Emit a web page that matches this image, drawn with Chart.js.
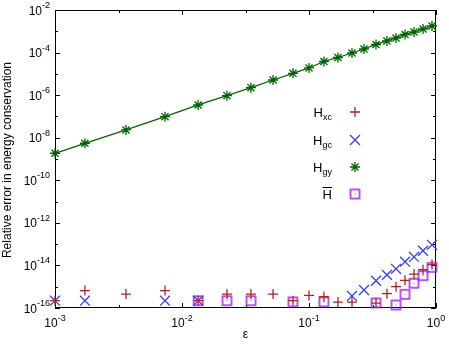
<!DOCTYPE html>
<html><head><meta charset="utf-8">
<script src="https://cdn.jsdelivr.net/npm/chart.js@4.4.0/dist/chart.umd.min.js"></script>
<style>html,body{margin:0;padding:0;background:#fff}#c{display:block}</style>
</head><body>
<canvas id="c" width="449" height="346"></canvas>
<script>
// ---- data ----
const eps  = [0.001, 0.00172, 0.00362, 0.00735, 0.0134, 0.0226, 0.0349, 0.0521, 0.0748, 0.1, 0.131, 0.169, 0.218, 0.271, 0.337, 0.411, 0.484, 0.570, 0.671, 0.79, 0.93];
const hXc  = [2.2e-16, 6.6e-16, 4.5e-16, 6.6e-16, 2.2e-16, 4.5e-16, 4.5e-16, 4.5e-16, 2.2e-16, 3.9e-16, 3.4e-16, 1.9e-16, 1.9e-16, null, 1.7e-16, 4.7e-16, 1.0e-15, 2.0e-15, 3.9e-15, 6.3e-15, 1.1e-14];
const hGc  = [2.2e-16, 2.2e-16, null, 2.2e-16, 2.2e-16, null, null, null, null, null, null, null, 3.7e-16, 7.0e-16, 1.9e-15, 3.6e-15, 6.9e-15, 1.5e-14, 2.5e-14, 4.9e-14, 9.3e-14];
const hGy  = [1.86e-9, 5.48e-9, 2.31e-8, 9.73e-8, 3.45e-7, 9.44e-7, 2.24e-6, 5.15e-6, 1.06e-5, 1.89e-5, 3.81e-5, 5.87e-5, 9.55e-5, 1.47e-4, 2.40e-4, 3.50e-4, 4.84e-4, 7.07e-4, 9.26e-4, 1.28e-3, 1.77e-3];
const hBar = [null, null, null, null, 2.2e-16, 2.2e-16, 2.2e-16, null, 1.93e-16, null, 1.93e-16, null, null, null, 1.74e-16, null, 1.39e-16, 4.4e-16, 1.46e-15, 3.3e-15, 8.2e-15];
const xTickExps = [-3, -2, -1, 0];
const yTickExps = [-16, -14, -12, -10, -8, -6, -4, -2];
const seriesNames = [["H", "xc"], ["H", "gc"], ["H", "gy"], ["H", ""]];

const RED = "#b22222", BLUE = "#3a3aff", GREEN = "#006400", PURPLE = "#a020f0";
const FONT = "'Liberation Sans', Arial, sans-serif";

function pts(ys) {
  const out = [];
  ys.forEach((v, i) => { if (v !== null) out.push({x: eps[i], y: v}); });
  return out;
}

// square with center dot pointstyle
function squareCanvas() {
  const c = document.createElement('canvas');
  c.width = 13; c.height = 13;
  const g = c.getContext('2d');
  g.strokeStyle = PURPLE; g.lineWidth = 1.5;
  g.strokeRect(2, 2, 9, 9);
  g.fillStyle = PURPLE; g.fillRect(6, 6, 1, 1);
  return c;
}
const sq = squareCanvas();

function supText(ctx, base, sup, x, y, align) {
  ctx.font = "12px " + FONT;
  const wb = ctx.measureText(base).width;
  ctx.font = "9px " + FONT;
  const ws = ctx.measureText(sup).width;
  const total = wb + ws;
  let x0 = align === 'right' ? x - total : x - total / 2;
  ctx.textAlign = 'left'; ctx.textBaseline = 'alphabetic';
  ctx.font = "12px " + FONT;
  ctx.fillText(base, x0, y);
  ctx.font = "9px " + FONT;
  ctx.fillText(sup, x0 + wb, y - 6.5);
}

function drawMarker(ctx, kind, x, y) {
  ctx.save();
  ctx.lineWidth = 1.3;
  ctx.beginPath();
  if (kind === 0) { ctx.strokeStyle = RED; ctx.moveTo(x - 5, y); ctx.lineTo(x + 5, y); ctx.moveTo(x, y - 5); ctx.lineTo(x, y + 5); }
  if (kind === 1) { ctx.strokeStyle = BLUE; ctx.moveTo(x - 5, y - 5); ctx.lineTo(x + 5, y + 5); ctx.moveTo(x - 5, y + 5); ctx.lineTo(x + 5, y - 5); }
  if (kind === 2) { ctx.strokeStyle = GREEN; ctx.moveTo(x - 5, y); ctx.lineTo(x + 5, y); ctx.moveTo(x, y - 5); ctx.lineTo(x, y + 5);
    ctx.moveTo(x - 3.5, y - 3.5); ctx.lineTo(x + 3.5, y + 3.5); ctx.moveTo(x - 3.5, y + 3.5); ctx.lineTo(x + 3.5, y - 3.5); }
  ctx.stroke();
  if (kind === 3) { ctx.drawImage(sq, x - 6.5, y - 6.5); }
  ctx.restore();
}

const framePlugin = {
  id: 'frame',
  beforeDatasetsDraw(chart) {
    const ctx = chart.ctx, a = chart.chartArea;
    const xs = chart.scales.x, ys = chart.scales.y;
    ctx.save();
    ctx.strokeStyle = '#000'; ctx.lineWidth = 1;
    ctx.strokeRect(a.left + 0.5, a.top + 0.5, a.right - a.left - 1, a.bottom - a.top - 1);
    ctx.beginPath();
    // y ticks
    for (let e = -16; e <= -2; e++) {
      const py = Math.round(ys.getPixelForValue(Math.pow(10, e))) + 0.5;
      const len = (e % 2 === 0) ? 5 : 3;
      ctx.moveTo(a.left, py); ctx.lineTo(a.left + len, py);
      ctx.moveTo(a.right, py); ctx.lineTo(a.right - len, py);
    }
    // x ticks
    for (let e = -3; e <= 0; e += 0.5) {
      const px = Math.round(xs.getPixelForValue(Math.pow(10, e))) + 0.5;
      const len = (Math.abs(e % 1) < 1e-9) ? 5 : 3;
      ctx.moveTo(px, a.bottom); ctx.lineTo(px, a.bottom - len);
      ctx.moveTo(px, a.top); ctx.lineTo(px, a.top + len);
    }
    ctx.stroke();
    ctx.restore();
  },
  afterDraw(chart) {
    const ctx = chart.ctx, a = chart.chartArea;
    const xs = chart.scales.x, ys = chart.scales.y;
    ctx.save();
    ctx.fillStyle = '#000';
    yTickExps.forEach(e => {
      const py = ys.getPixelForValue(Math.pow(10, e));
      supText(ctx, "10", String(e), 50, py + 4.5, 'right');
    });
    xTickExps.forEach(e => {
      const px = xs.getPixelForValue(Math.pow(10, e));
      supText(ctx, "10", String(e), px, a.bottom + 19, 'center');
    });
    // axis titles
    ctx.font = "12px " + FONT;
    ctx.textAlign = 'center'; ctx.textBaseline = 'middle';
    ctx.fillText("ε", (a.left + a.right) / 2, 335);
    ctx.save();
    ctx.translate(8, 160);
    ctx.rotate(-Math.PI / 2);
    ctx.fillText("Relative error in energy conservation", 0, 0);
    ctx.restore();
    // legend
    const ly = [112, 140, 167, 194];
    seriesNames.forEach((nm, i) => {
      const y = ly[i];
      ctx.font = "9px " + FONT;
      const ws = ctx.measureText(nm[1]).width;
      ctx.font = "13px " + FONT;
      const wb = ctx.measureText(nm[0]).width;
      const right = 332;
      const x0 = right - ws - wb;
      ctx.textAlign = 'left'; ctx.textBaseline = 'alphabetic';
      ctx.fillStyle = '#000';
      ctx.fillText(nm[0], x0, y + 5);
      if (nm[1]) { ctx.font = "9px " + FONT; ctx.fillText(nm[1], x0 + wb, y + 8); }
      else {
        ctx.fillRect(x0, y - 7, wb, 1);
      }
      drawMarker(ctx, i, 355, y);
    });
    ctx.restore();
  }
};

const fitZeroW = s => { s.width = 0; };
const fitZeroH = s => { s.height = 0; };

new Chart(document.getElementById('c'), {
  type: 'scatter',
  data: {
    datasets: [
      { label: 'Hxc', data: pts(hXc), pointStyle: 'cross', pointRadius: 5, borderColor: RED, backgroundColor: RED, pointBorderWidth: 1.3, clip: false },
      { label: 'Hgc', data: pts(hGc), pointStyle: 'crossRot', pointRadius: 7, borderColor: BLUE, backgroundColor: BLUE, pointBorderWidth: 1.3, clip: false },
      { label: 'Hgy', data: pts(hGy), pointStyle: 'star', pointRadius: 5, borderColor: GREEN, backgroundColor: GREEN, pointBorderWidth: 1.3, showLine: true, borderWidth: 1.3, clip: false },
      { label: 'Hbar', data: pts(hBar), pointStyle: sq, pointRadius: 6, borderColor: PURPLE, backgroundColor: PURPLE, clip: false }
    ]
  },
  options: {
    responsive: false,
    animation: false,
    devicePixelRatio: 1,
    layout: { padding: { left: 55, right: 13, top: 10, bottom: 38 } },
    plugins: { legend: { display: false }, tooltip: { enabled: false } },
    scales: {
      x: { type: 'logarithmic', min: 1e-3, max: 1, grid: { display: false }, border: { display: false }, ticks: { display: false }, afterFit: fitZeroH },
      y: { type: 'logarithmic', min: 1e-16, max: 1e-2, grid: { display: false }, border: { display: false }, ticks: { display: false }, afterFit: fitZeroW }
    }
  },
  plugins: [framePlugin]
});
</script>
</body></html>
